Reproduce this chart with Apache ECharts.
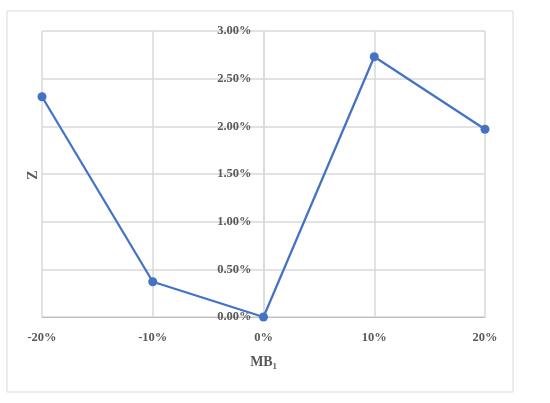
<!DOCTYPE html>
<html>
<head>
<meta charset="utf-8">
<script src="https://cdn.jsdelivr.net/npm/echarts@6/dist/echarts.min.js"></script>
<style>
  html, body { margin: 0; padding: 0; background: #fff; }
  #chart { width: 550px; height: 403px; }
</style>
</head>
<body>
<div id="chart"></div>
<script>
// MB1 change (%) on x, Z (%) on y
const mbValues = [-20, -10, 0, 10, 20];
const zValues = [2.31, 0.37, 0.0, 2.73, 1.97];
const yTicks = [0, 0.5, 1, 1.5, 2, 2.5, 3];

const labelFont = {
    fontFamily: 'Liberation Serif',
    fontWeight: 'bold',
    fontSize: 12.5,
    color: '#595959'
};

const gridLeft = 42;
const gridRight = 65;
const plotWidth = 550 - gridLeft - gridRight;

const option = {
    animation: false,
    backgroundColor: '#fff',
    grid: {
        left: gridLeft,
        right: gridRight,
        top: 31,
        bottom: 86,
        containLabel: false,
        outerBoundsMode: 'none'
    },
    xAxis: {
        type: 'value',
        min: -20,
        max: 20,
        interval: 10,
        name: 'MB₁',
        nameLocation: 'middle',
        nameGap: 38,
        nameTextStyle: Object.assign({}, labelFont, { fontSize: 14 }),
        axisLine: { onZero: false, lineStyle: { color: '#bfbfbf', width: 1 } },
        axisTick: { show: false },
        axisLabel: Object.assign({}, labelFont, {
            margin: 14,
            formatter: v => v + '%'
        }),
        splitLine: { show: true, lineStyle: { color: '#d9d9d9', width: 1.5 } }
    },
    yAxis: {
        type: 'value',
        min: yTicks[0],
        max: yTicks[yTicks.length - 1],
        interval: 0.5,
        // sit the value axis on the 0% column, as in the original
        offset: -plotWidth / 2,
        axisLine: { show: true, onZero: false, lineStyle: { color: '#d9d9d9', width: 1.5 } },
        axisTick: { show: false },
        axisLabel: Object.assign({}, labelFont, {
            margin: 12,
            formatter: v => v.toFixed(2) + '%'
        }),
        splitLine: { show: true, lineStyle: { color: '#d9d9d9', width: 1.5 } }
    },
    graphic: [{
        type: 'rect',
        shape: { x: 7, y: 11, width: 506, height: 381 },
        style: { fill: 'none', stroke: '#d9d9d9', lineWidth: 1 }
    }, {
        type: 'text',
        x: 33,
        y: 175,
        rotation: Math.PI / 2,
        style: {
            text: 'Z',
            fontFamily: 'Liberation Serif',
            fontWeight: 'bold',
            fontSize: 14,
            fill: '#595959',
            align: 'center',
            verticalAlign: 'middle'
        }
    }],
    series: [{
        type: 'line',
        data: mbValues.map((x, i) => [x, zValues[i]]),
        symbol: 'circle',
        symbolSize: 9,
        itemStyle: { color: '#4472c4' },
        lineStyle: { color: '#4472c4', width: 2.25 },
        z: 5
    }]
};

const chart = echarts.init(document.getElementById('chart'));
chart.setOption(option);
</script>
</body>
</html>
